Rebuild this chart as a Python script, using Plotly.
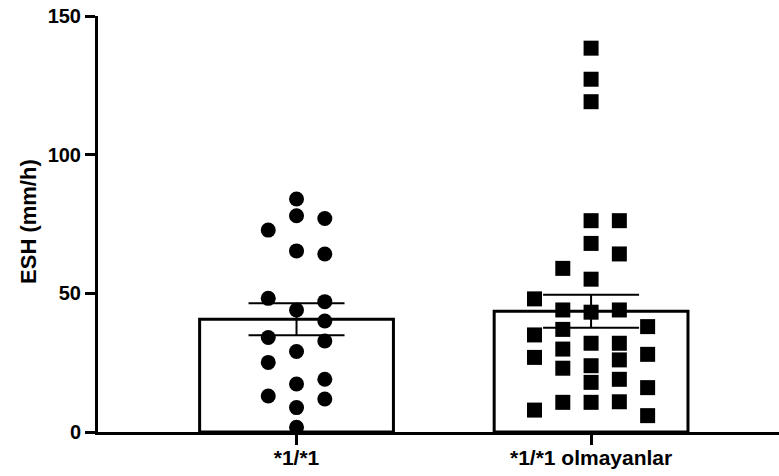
import numpy as np
import plotly.graph_objects as go

# Groups
categories = ["*1/*1", "*1/*1 olmayanlar"]

# ESH (mm/h) values per subject, with the swarm column each point sits in
esh_11 = [84.0, 78.0, 77.0, 72.8, 65.3, 64.2, 48.2, 47.0, 44.0, 40.0,
          34.1, 32.8, 29.0, 25.1, 19.0, 17.3, 13.0, 11.9, 8.8, 1.7]
col_11 = [0, 0, 1, -1, 0, 1, -1, 1, 0, 1,
          -1, 1, 0, -1, 1, 0, -1, 1, 0, 0]

esh_other = [48.0, 35.0, 26.9, 7.9,
             59.0, 44.0, 37.0, 29.9, 23.0, 10.7,
             138.4, 127.2, 119.1, 76.2, 68.0, 55.1, 43.2, 32.0, 23.9, 17.9, 10.7,
             76.2, 64.2, 44.0, 32.0, 26.0, 19.0, 10.9,
             38.0, 28.0, 16.0, 5.9]
col_other = [-2, -2, -2, -2,
             -1, -1, -1, -1, -1, -1,
             0, 0, 0, 0, 0, 0, 0, 0, 0, 0, 0,
             1, 1, 1, 1, 1, 1, 1,
             2, 2, 2, 2]

y_ticks = [0, 50, 100, 150]

groups = [np.array(esh_11), np.array(esh_other)]
means = [g.mean() for g in groups]
sems = [g.std(ddof=1) / np.sqrt(len(g)) for g in groups]

COL_STEP = 0.096
FONT = "Liberation Sans, Arial, sans-serif"

fig = go.Figure()

# Mean bars with SEM error bars
fig.add_trace(go.Bar(
    x=[0, 1], y=means, width=0.658,
    marker=dict(color="white", line=dict(color="black", width=3)),
    error_y=dict(type="data", array=sems, visible=True,
                 color="black", thickness=2, width=48),
    showlegend=False, hoverinfo="skip",
))

# Individual values
fig.add_trace(go.Scatter(
    x=[0 + c * COL_STEP for c in col_11], y=esh_11, mode="markers",
    marker=dict(symbol="circle", size=15, color="black", line=dict(width=0)),
    cliponaxis=False, showlegend=False,
))
fig.add_trace(go.Scatter(
    x=[1 + c * COL_STEP for c in col_other], y=esh_other, mode="markers",
    marker=dict(symbol="square", size=15, color="black", line=dict(width=0)),
    cliponaxis=False, showlegend=False,
))

fig.update_layout(
    width=779, height=476,
    margin=dict(l=98, r=0, t=16, b=44),
    paper_bgcolor="white", plot_bgcolor="white",
    font=dict(family=FONT, color="black"),
    xaxis=dict(
        range=[-0.674, 1.638], showgrid=False, zeroline=False,
        showline=True, linecolor="black", linewidth=3,
        tickmode="array", tickvals=[0, 1], ticktext=categories,
        ticks="outside", ticklen=10, tickwidth=3, tickcolor="black",
        ticklabelstandoff=-5,
        tickfont=dict(size=21, family=FONT, weight="bold"),
    ),
    yaxis=dict(
        range=[0, 150], showgrid=False, zeroline=False,
        showline=True, linecolor="black", linewidth=3,
        tickmode="array", tickvals=y_ticks,
        ticks="outside", ticklen=10, tickwidth=3, tickcolor="black",
        tickfont=dict(size=20, family=FONT, weight="bold"),
    ),
    annotations=[dict(
        text="<b>ESH (mm/h)</b>", textangle=-90,
        xref="paper", yref="paper", x=-0.103, y=0.507,
        xanchor="center", yanchor="middle", showarrow=False,
        font=dict(size=22, family=FONT, color="black"),
    )],
)

fig.write_html("out.html")
